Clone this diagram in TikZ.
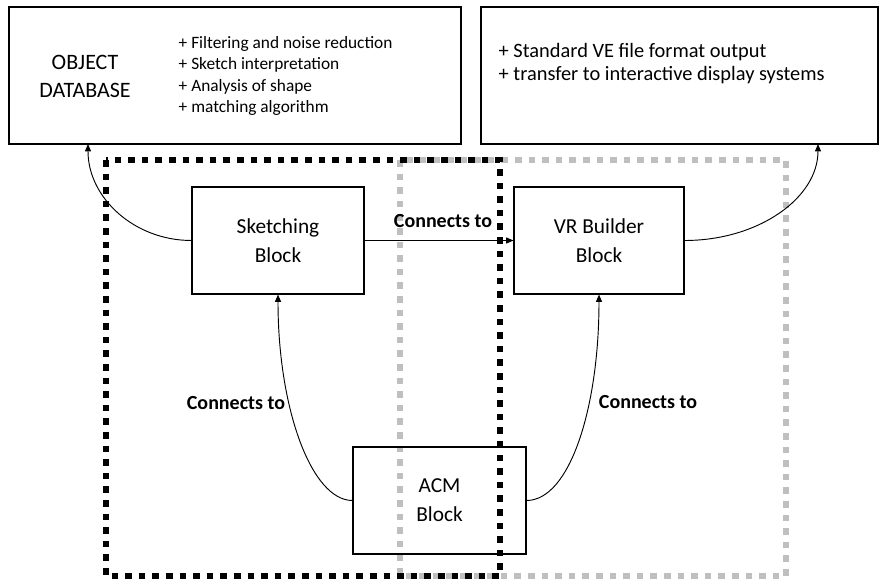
\documentclass[tikz,border=0pt]{standalone}
\usepackage{fontspec}
\setmainfont{Carlito}
\usetikzlibrary{arrows.meta}

\begin{document}
\begin{tikzpicture}[x=0.75pt, y=-0.75pt, >={Triangle[length=5.5pt,width=4.5pt]},
  box/.style={draw, line width=0.8pt, minimum height=80.25pt, align=center, font=\fontsize{16}{21.75}\selectfont},
  link/.style={->, line width=0.7pt},
  linklabel/.style={font=\fontsize{15}{17}\selectfont\bfseries},
  zone/.style={line width=4.5pt, dash pattern=on 4.9pt off 5.3pt}]
\useasboundingbox (0,0) rectangle (883,580);
% 两个分区（灰色在下，黑色在上）
\draw[zone, black!25] (400,160) rectangle (786,576);
\draw[zone, black] (106,160) rectangle (500,576);
% 上方两个框
\node[draw, line width=0.8pt, minimum width=339pt, minimum height=102.75pt] (objdb) at (235,75.5) {};
\node[align=center, font=\fontsize{16.5}{21}\selectfont] (objname) at (85,76) {OBJECT\\DATABASE};
\node[anchor=west, align=left, font=\fontsize{13}{16.1}\selectfont] (objlist) at (174,76)
  {+ Filtering and noise reduction\\+ Sketch interpretation\\+ Analysis of shape\\+ matching algorithm};
\node[draw, line width=0.8pt, minimum width=297.75pt, minimum height=102.75pt] (veout) at (679.5,75.5) {};
\node[anchor=west, align=left, font=\fontsize{15.3}{17.25}\selectfont] (velist) at (494,64)
  {+ Standard VE file format output\\+ transfer to interactive display systems};
\coordinate (dbin) at (88,144);
\coordinate (vein) at (818,144);
% 三个模块
\node[box, minimum width=129pt] (sketch) at (278,240.5) {Sketching\\Block};
\node[box, minimum width=127.5pt] (vr) at (599,240.5) {VR Builder\\Block};
\node[box, minimum width=129.75pt] (acm) at (439.5,500.5) {ACM\\Block};
% 连接
\draw[link] (sketch.east) -- (vr.west);
\node[linklabel] (lbltop) at (443,221) {Connects to};
\draw[link] (sketch.west) .. controls +(-57,0) and +(0,54) .. (dbin);
\draw[link] (vr.east) .. controls +(74,0) and +(0,54) .. (vein);
\draw[link] (acm.west) .. controls +(-41,0) and +(0,114) .. (sketch.south);
\node[linklabel] (lblleft) at (236,403) {Connects to};
\draw[link] (acm.east) .. controls +(43,0) and +(0,114) .. (vr.south);
\node[linklabel] (lblright) at (648,402) {Connects to};
\end{tikzpicture}
\end{document}
